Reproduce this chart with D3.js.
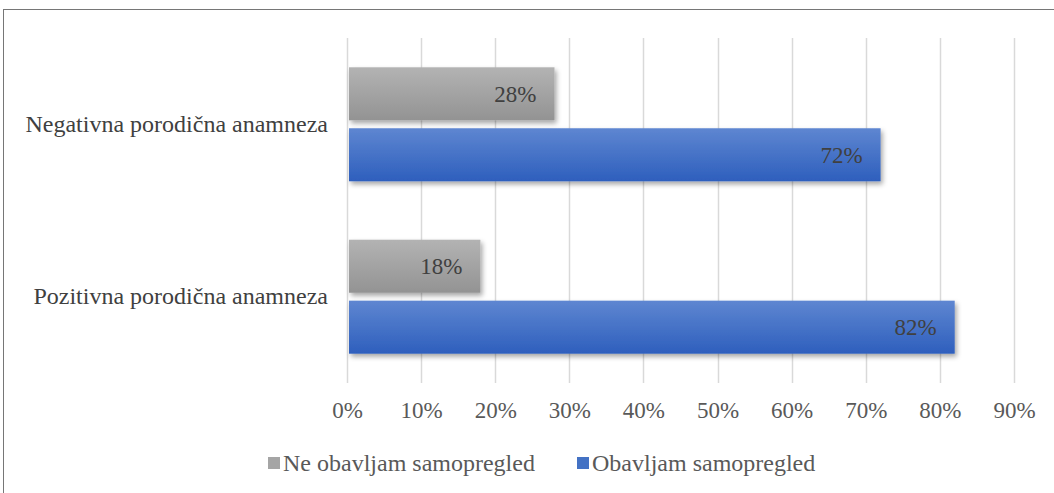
<!DOCTYPE html>
<html>
<head>
<meta charset="utf-8">
<script src="https://cdn.jsdelivr.net/npm/d3@7"></script>
<style>
  body { margin: 0; background: #fff; }
  svg { display: block; font-family: "Liberation Serif", "Times New Roman", serif; }
</style>
</head>
<body>
<svg id="chart"></svg>
<script>
// categories top to bottom
const categories = ["Negativna porodična anamneza", "Pozitivna porodična anamneza"];
const seriesNames = ["Ne obavljam samopregled", "Obavljam samopregled"];
const neValues = [28, 18];
const daValues = [72, 82];
const xTicks = [0, 10, 20, 30, 40, 50, 60, 70, 80, 90];

const width = 1054, height = 493;
const margin = { top: 38, right: 40, bottom: 110, left: 347 };
const innerW = 1014 - margin.left;
const innerH = 383 - margin.top;

const svg = d3.select('#chart').attr('width', width).attr('height', height);

const defs = svg.append('defs');
const grads = [
  { id: 'gGray', top: '#b3b3b3', bottom: '#939393' },
  { id: 'gBlue', top: '#5e86d1', bottom: '#2e5fbd' }
];
grads.forEach(g => {
  const lg = defs.append('linearGradient').attr('id', g.id)
    .attr('x1', 0).attr('y1', 0).attr('x2', 0).attr('y2', 1);
  lg.append('stop').attr('offset', '0%').attr('stop-color', g.top);
  lg.append('stop').attr('offset', '100%').attr('stop-color', g.bottom);
});
const f = defs.append('filter').attr('id', 'shadow')
  .attr('x', '-5%').attr('y', '-20%').attr('width', '115%').attr('height', '150%');
f.append('feDropShadow').attr('dx', 2).attr('dy', 3).attr('stdDeviation', 2.5)
  .attr('flood-color', '#000').attr('flood-opacity', 0.35);

// outer border
svg.append('rect')
  .attr('x', 3.5).attr('y', 9.5)
  .attr('width', width + 10).attr('height', height + 10)
  .attr('fill', 'none').attr('stroke', '#767676').attr('stroke-width', 1);

const chart = svg.append('g').attr('transform', `translate(${margin.left},${margin.top})`);

const x = d3.scaleLinear().domain([0, 90]).range([0, innerW]);
const y = d3.scaleBand().domain(categories).range([0, innerH]).paddingInner(0.339).paddingOuter(0.17);
const ySub = d3.scaleBand().domain(seriesNames).range([0, y.bandwidth()]).paddingInner(0.13);

// gridlines
chart.append('g')
  .selectAll('line')
  .data(xTicks)
  .join('line')
  .attr('x1', d => Math.round(x(d)) + 0.5).attr('x2', d => Math.round(x(d)) + 0.5)
  .attr('y1', 0).attr('y2', innerH)
  .attr('stroke', '#d9d9d9').attr('stroke-width', 1.5);

// x axis labels
const xAxis = d3.axisBottom(x).tickValues(xTicks).tickFormat(d => d + '%').tickSize(0).tickPadding(19);
const xAxisG = chart.append('g')
  .attr('class', 'axis x-axis')
  .attr('transform', `translate(0,${innerH})`)
  .call(xAxis);
xAxisG.select('.domain').remove();
xAxisG.selectAll('text')
  .attr('font-family', 'Liberation Serif, serif')
  .attr('font-size', 23).attr('fill', '#595959');

// y axis labels
const yAxis = d3.axisLeft(y).tickSize(0).tickPadding(19);
const yAxisG = chart.append('g').attr('class', 'axis y-axis').call(yAxis);
yAxisG.select('.domain').remove();
yAxisG.selectAll('text')
  .attr('font-family', 'Liberation Serif, serif')
  .attr('font-size', 24).attr('fill', '#404040');

// bars
const rows = [];
categories.forEach((c, i) => {
  rows.push({ cat: c, s: seriesNames[0], v: neValues[i], fill: 'url(#gGray)' });
  rows.push({ cat: c, s: seriesNames[1], v: daValues[i], fill: 'url(#gBlue)' });
});

chart.append('g')
  .selectAll('rect')
  .data(rows)
  .join('rect')
  .attr('x', 2)
  .attr('y', d => y(d.cat) + ySub(d.s))
  .attr('width', d => x(d.v) - 2)
  .attr('height', ySub.bandwidth())
  .attr('fill', d => d.fill)
  .attr('filter', 'url(#shadow)');

chart.append('g')
  .selectAll('text')
  .data(rows)
  .join('text')
  .attr('x', d => x(d.v) - 18)
  .attr('y', d => y(d.cat) + ySub(d.s) + ySub.bandwidth() / 2)
  .attr('dy', '0.35em')
  .attr('text-anchor', 'end')
  .attr('font-family', 'Liberation Serif, serif')
  .attr('font-size', 23)
  .attr('fill', '#404040')
  .text(d => d.v + '%');

// legend
const legend = svg.append('g').attr('transform', 'translate(0,463)');
const legendItems = [
  { name: seriesNames[0], color: '#a5a5a5', x: 268 },
  { name: seriesNames[1], color: '#4472c4', x: 577 }
];
legendItems.forEach(it => {
  legend.append('rect')
    .attr('x', it.x).attr('y', -6).attr('width', 12).attr('height', 12)
    .attr('fill', it.color);
  legend.append('text')
    .attr('x', it.x + 15).attr('y', 0).attr('dy', '0.35em')
    .attr('font-family', 'Liberation Serif, serif')
    .attr('font-size', 24).attr('fill', '#595959')
    .text(it.name);
});
</script>
</body>
</html>
